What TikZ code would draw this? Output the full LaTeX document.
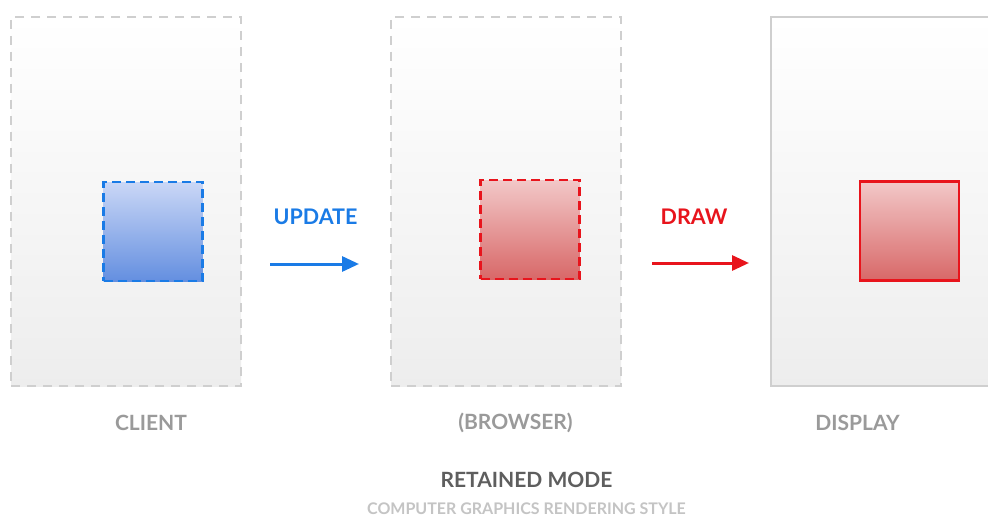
\documentclass[tikz,border=0pt]{standalone}
\usepackage{fontspec}
\setmainfont{Lato}
\usetikzlibrary{arrows.meta}
\definecolor{panelline}{HTML}{CFCFCF}
\definecolor{bluec}{HTML}{1A7BE6}
\definecolor{redc}{HTML}{E8141C}
\definecolor{labelc}{HTML}{9A9A9A}
\definecolor{titlec}{HTML}{5E5E5E}
\definecolor{subc}{HTML}{C4C4C4}
\tikzset{
  panel/.style={rectangle, inner sep=0pt, minimum width=230pt, minimum height=369pt,
    shading=axis, top color=white, bottom color=black!7, line width=1.6pt},
  dpanel/.style={panel, draw=panelline, dash pattern=on 9pt off 7pt},
  spanel/.style={panel, draw=panelline},
  sq/.style={rectangle, inner sep=0pt, minimum width=99pt, minimum height=99pt, shading=axis, line width=2.6pt},
  bluesq/.style={sq, draw=bluec, top color={rgb,255:red,202;green,215;blue,246}, bottom color={rgb,255:red,100;green,143;blue,224}, dash pattern=on 9pt off 5pt},
  redsq/.style={sq, draw=redc, top color={rgb,255:red,242;green,200;blue,200}, bottom color={rgb,255:red,216;green,104;blue,104}},
  reddsq/.style={redsq, dash pattern=on 9pt off 5pt},
  lab/.style={font=\bfseries\fontsize{21}{23}\selectfont, text=labelc},
  arr/.style={line width=3pt, -{Triangle[length=17pt,width=15pt]}},
}
\begin{document}
\begin{tikzpicture}[x=1pt,y=-1pt]
\clip (0,0) rectangle (988,516);
\fill[white] (0,0) rectangle (988,516);
\node[dpanel] (client) at (126,201.5) {};
\node[dpanel] (browser) at (506,201.5) {};
\node[spanel, minimum width=240pt] (display) at (891,201.5) {};
\node[bluesq] (bsq) at (153,231.5) {};
\node[reddsq] (rsq1) at (530,229.5) {};
\node[redsq] (rsq2) at (909.5,231) {};
\node[font=\bfseries\fontsize{21.5}{23}\selectfont, text=bluec] (upd) at (315.5,217) {UPDATE};
\node[font=\bfseries\fontsize{21.5}{23}\selectfont, text=redc] (drw) at (694,217) {DRAW};
\coordinate (u1) at (270,264);
\coordinate (u2) at (359,264);
\coordinate (d1) at (652,263);
\coordinate (d2) at (749,263);
\draw[arr, draw=bluec, fill=bluec] (u1) -- (u2);
\draw[arr, draw=redc, fill=redc] (d1) -- (d2);
\node[lab] (lclient) at (151,423) {CLIENT};
\node[lab] (lbrowser) at (515.5,423) {(BROWSER)};
\node[lab] (ldisplay) at (857.5,423) {DISPLAY};
\node[font=\bfseries\fontsize{21}{23}\selectfont, text=titlec] (title) at (526.5,480) {RETAINED MODE};
\node[inner sep=0pt, font=\bfseries\fontsize{16}{18}\selectfont, text=subc] (sub) at (526.5,508.5) {COMPUTER GRAPHICS RENDERING STYLE};
\end{tikzpicture}
\end{document}
